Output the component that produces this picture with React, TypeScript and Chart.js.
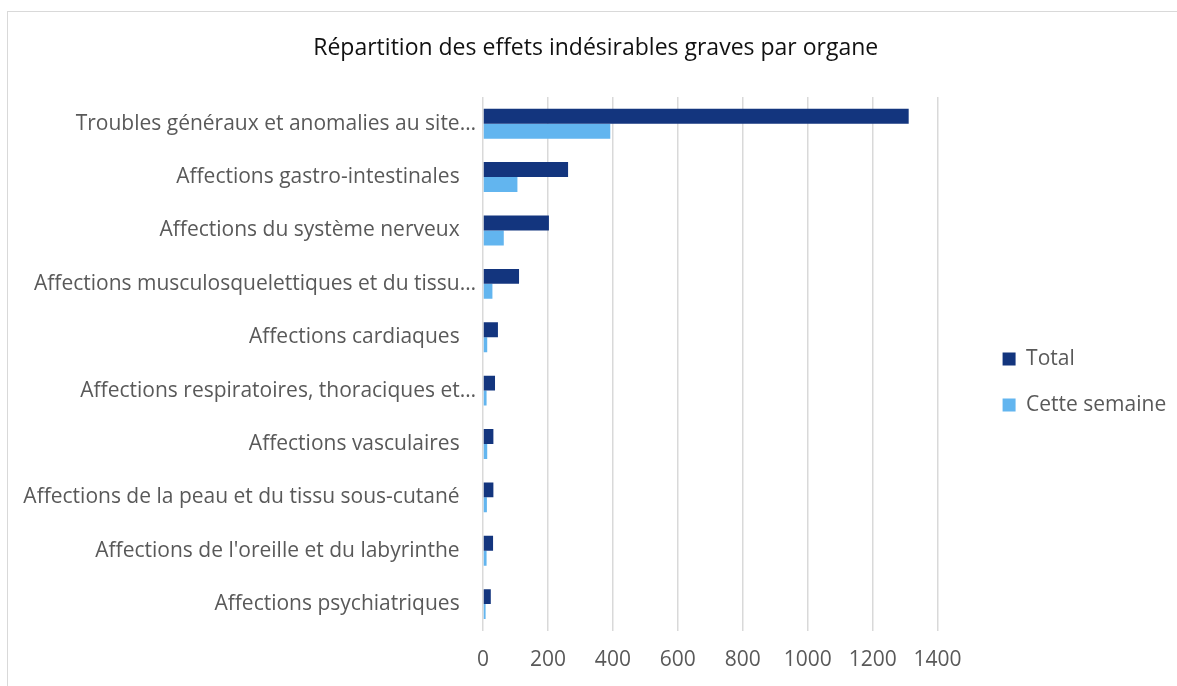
import React, { useEffect, useRef } from "react";
import { Chart, registerables } from "chart.js";

Chart.register(...registerables);

const chartTitle = "Répartition des effets indésirables graves par organe";

const categories = [
  "Troubles généraux et anomalies au site…",
  "Affections gastro-intestinales",
  "Affections du système nerveux",
  "Affections musculosquelettiques et du tissu…",
  "Affections cardiaques",
  "Affections respiratoires, thoraciques et…",
  "Affections vasculaires",
  "Affections de la peau et du tissu sous-cutané",
  "Affections de l'oreille et du labyrinthe",
  "Affections psychiatriques",
];

const totalValues = [1311, 262, 203, 111, 46, 37, 32, 32, 31, 24];
const weekValues = [392, 106, 64, 29, 13, 11, 13, 12, 11, 8];

const seriesNames = ["Total", "Cette semaine"];
const seriesColors = ["#13357e", "#62b5ef"];

const xTicks = [0, 200, 400, 600, 800, 1000, 1200, 1400];

const FONT = "'Open Sans', 'Noto Sans', sans-serif";
const GRAY = "#595959";

export default function App() {
  const ref = useRef<HTMLCanvasElement | null>(null);

  useEffect(() => {
    if (!ref.current) return;
    const chart = new Chart(ref.current, {
      type: "bar",
      data: {
        labels: categories,
        datasets: [
          {
            label: seriesNames[0],
            data: totalValues,
            backgroundColor: seriesColors[0],
            barPercentage: 1,
            categoryPercentage: 0.56,
          },
          {
            label: seriesNames[1],
            data: weekValues,
            backgroundColor: seriesColors[1],
            barPercentage: 1,
            categoryPercentage: 0.56,
          },
        ],
      },
      options: {
        indexAxis: "y",
        animation: false,
        responsive: false,
        maintainAspectRatio: false,
        layout: { padding: { left: 16, right: 20.5, top: 0, bottom: 0 } },
        plugins: {
          title: {
            display: true,
            text: chartTitle,
            color: "#111111",
            font: { family: FONT, size: 23, weight: "normal" },
            padding: { top: 23.2, bottom: 35.2 },
          },
          legend: {
            display: true,
            position: "right",
            fullSize: false,
            title: { display: true, text: "", font: { size: 12 }, padding: { top: 0, bottom: 21.6 } },
            labels: {
              boxWidth: 13,
              boxHeight: 13,
              padding: 25,
              color: GRAY,
              font: { family: FONT, size: 21 },
            },
          },
          tooltip: { enabled: false },
        },
        scales: {
          x: {
            type: "linear",
            min: xTicks[0],
            max: xTicks[xTicks.length - 1],
            afterBuildTicks: (s: any) => {
              s.ticks = xTicks.map((v) => ({ value: v }));
            },
            grid: { color: "#d9d9d9", lineWidth: 1.5, drawTicks: false },
            border: { display: false },
            ticks: {
              color: GRAY,
              padding: 16.5,
              font: { family: FONT, size: 21 },
              callback: (value: any) => String(value),
            },
          },
          y: {
            type: "category",
            grid: { display: false, drawTicks: false },
            border: { display: false },
            afterFit: (s: any) => {
              s.width = 460;
            },
            ticks: {
              color: GRAY,
              padding: 7,
              autoSkip: false,
              font: { family: FONT, size: 21 },
              callback: function (this: any, value: any) {
                const label = categories[value as number];
                return label.endsWith("…") ? label : label + "   ";
              },
            },
          },
          y2: {
            type: "linear",
            position: "right",
            display: true,
            grid: { display: false, drawTicks: false },
            border: { display: false },
            ticks: { display: false },
            afterFit: (s: any) => {
              s.width = 40;
            },
          },
        },
      },
    });
    return () => chart.destroy();
  }, []);

  return (
    <div
      style={{
        position: "fixed",
        left: 0,
        top: 0,
        width: 1177,
        height: 686,
        overflow: "hidden",
        background: "#ffffff",
      }}
    >
      <div
        style={{
          position: "absolute",
          left: 7,
          top: 11,
          width: 1182,
          height: 700,
          border: "1px solid #d9d9d9",
          boxSizing: "border-box",
        }}
      />
      <canvas
        ref={ref}
        width={1182}
        height={678}
        style={{ position: "absolute", left: 7, top: 11, width: 1182, height: 678 }}
      />
    </div>
  );
}
